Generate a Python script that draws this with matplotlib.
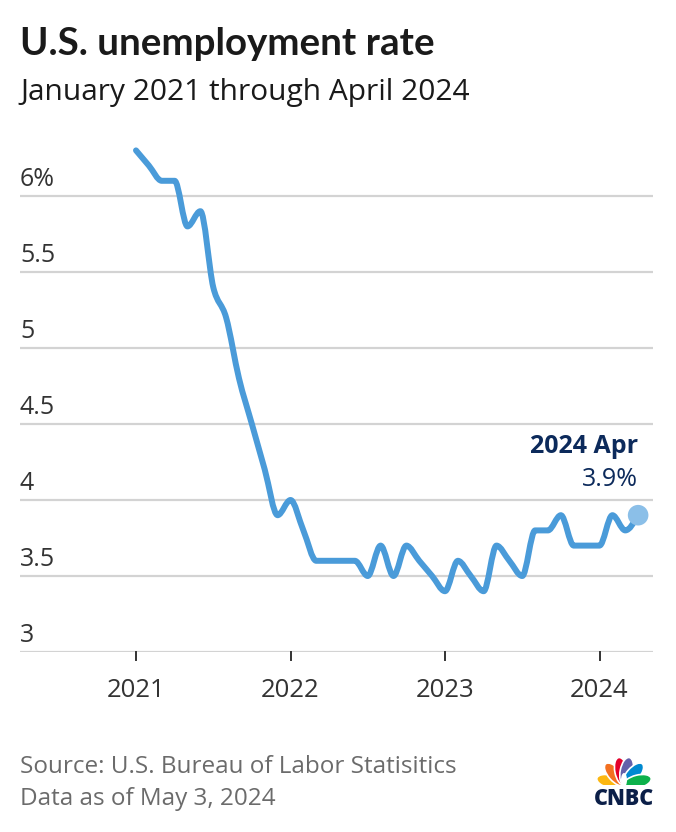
import numpy as np
import matplotlib
matplotlib.use("Agg")
import matplotlib.pyplot as plt
from matplotlib.path import Path
from matplotlib.patches import PathPatch, Ellipse

# monthly unemployment rate, Jan 2021 .. Apr 2024
rate_2021 = [6.3, 6.2, 6.1, 6.1, 5.8, 5.9, 5.4, 5.2, 4.8, 4.5, 4.2, 3.9]
rate_2022 = [4.0, 3.8, 3.6, 3.6, 3.6, 3.6, 3.5, 3.7, 3.5, 3.7, 3.6, 3.5]
rate_2023 = [3.4, 3.6, 3.5, 3.4, 3.7, 3.6, 3.5, 3.8, 3.8, 3.9, 3.7, 3.7]
rate_2024 = [3.7, 3.9, 3.8, 3.9]
rates = rate_2021 + rate_2022 + rate_2023 + rate_2024
months = list(range(len(rates)))

year_labels = ["2021", "2022", "2023", "2024"]
year_pos = [0, 12, 24, 36]
y_ticks = [3, 3.5, 4, 4.5, 5, 5.5, 6]
y_labels = ["3", "3.5", "4", "4.5", "5", "5.5", "6%"]

W, H = 676, 832
FONT = "Open Sans"
TFONT = "Lato"
LINE = "#4a9bd9"
NAVY = "#0c2a5b"
GRID = "#d3d3d3"
TXT = "#333333"
GREY = "#6b6b6b"


def monotone_path(x, y):
    # monotone cubic (like d3.curveMonotoneX) as bezier segments
    x = np.asarray(x, float)
    y = np.asarray(y, float)
    n = len(x)
    h = np.diff(x)
    s = np.diff(y) / h
    t = np.zeros(n)
    for i in range(1, n - 1):
        p = (s[i - 1] * h[i] + s[i] * h[i - 1]) / (h[i - 1] + h[i])
        t[i] = (np.sign(s[i - 1]) + np.sign(s[i])) * min(abs(s[i - 1]), abs(s[i]), 0.5 * abs(p))
    t[0] = (3 * s[0] - t[1]) / 2
    t[-1] = (3 * s[-1] - t[-2]) / 2
    verts = [(x[0], y[0])]
    codes = [Path.MOVETO]
    for i in range(n - 1):
        dx = h[i] / 3
        verts += [(x[i] + dx, y[i] + dx * t[i]), (x[i + 1] - dx, y[i + 1] - dx * t[i + 1]), (x[i + 1], y[i + 1])]
        codes += [Path.CURVE4] * 3
    return Path(verts, codes)


fig = plt.figure(figsize=(W / 100, H / 100), dpi=100)
fig.patch.set_facecolor("white")


def fx(px):
    return px / W


def fy(py):
    return 1 - py / H


# axes box in pixels
x0p, x1p = 20, 653
ytop_p, ybot_p = 120, 652
ax = fig.add_axes([fx(x0p), fy(ybot_p), (x1p - x0p) / W, (ybot_p - ytop_p) / H])
px_per_month = 154.5 / 12
ax.set_xlim((x0p - 136) / px_per_month, (x1p - 136) / px_per_month)
ax.set_ylim(3, 3 + (ybot_p - ytop_p) / 152)
ax.axis("off")

for v, lab in zip(y_ticks, y_labels):
    ax.axhline(v, color=GRID, lw=1.6, zorder=1)
    ax.annotate(lab, xy=(0, v), xycoords=("axes fraction", "data"), xytext=(0, 7.3),
                textcoords="offset points", ha="left", va="baseline",
                fontsize=18, color=TXT, family=FONT)

for p, lab in zip(year_pos, year_labels):
    ax.plot([p, p], [3 - 8 / 152, 3], color=TXT, lw=1.4, clip_on=False, zorder=2)
    ax.annotate(lab, xy=(p, 3), xycoords="data", xytext=(0, -28), textcoords="offset points",
                ha="center", va="center", fontsize=18.5, color=TXT, family=FONT)

ax.add_patch(PathPatch(monotone_path(months, rates), fill=False, edgecolor=LINE, lw=4.3,
                       capstyle="round", joinstyle="round", zorder=3))
ax.scatter([months[-1]], [rates[-1]], s=220, color="#8bbfe8", zorder=4, edgecolors="none")

ax.annotate("2024 Apr", xy=(months[-1], rates[-1]), xytext=(0, 45), textcoords="offset points",
            ha="right", va="baseline", fontsize=18, fontweight="bold", color=NAVY, family=FONT)
ax.annotate("3.9%", xy=(months[-1], rates[-1]), xytext=(0, 21), textcoords="offset points",
            ha="right", va="baseline", fontsize=18, color=NAVY, family=FONT)

# titles
fig.text(fx(20), fy(55), "U.S. unemployment rate", fontsize=27.7, fontweight="bold",
         color="#1a1a1a", family=TFONT, va="baseline")
fig.text(fx(20), fy(100), "January 2021 through April 2024", fontsize=21.5,
         color="#1a1a1a", family=FONT, va="baseline")

# footer
fig.text(fx(20), fy(773), "Source: U.S. Bureau of Labor Statisitics", fontsize=17.5,
         color=GREY, family=FONT, va="baseline")
fig.text(fx(20), fy(805), "Data as of May 3, 2024", fontsize=17.5,
         color=GREY, family=FONT, va="baseline")

# CNBC logo
lax = fig.add_axes([fx(590), fy(810), 68 / W, 62 / H])
lax.set_xlim(590, 658)
lax.set_ylim(810, 748)
lax.set_aspect("equal")
lax.axis("off")
cx, cy = 624, 785
feathers = [("#fcb711", 166), ("#f37021", 131), ("#e4002b", 101), ("#6460aa", 79),
            ("#0089d0", 49), ("#0db14b", 14)]
for col, ang in feathers:
    a = np.deg2rad(ang)
    r = 14
    lax.add_patch(Ellipse((cx + r * np.cos(a), cy - r * np.sin(a)), 28, 13, angle=-ang,
                          facecolor=col, edgecolor="white", lw=1.2))
lax.add_patch(Ellipse((cx, cy - 5), 6, 14, facecolor="white", edgecolor="none"))
lax.add_patch(plt.Rectangle((588, cy), 72, 30, facecolor="white", edgecolor="none"))
lax.text(624, 805, "CNBC", ha="center", va="baseline", fontsize=15.5, fontweight="heavy",
         color="#0b1f48", family=FONT)

fig.savefig("out.png", dpi=100)
